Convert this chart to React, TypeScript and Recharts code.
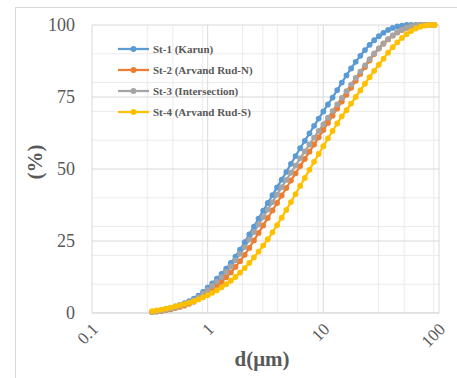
import React from "react";
import { LineChart, Line, XAxis, YAxis, CartesianGrid } from "recharts";

// particle diameter (um), log spaced bins
const diameters = [
  0.331, 0.363, 0.398, 0.437, 0.479, 0.525, 0.575, 0.631, 0.692, 0.759, 0.832, 0.912,
  1.0, 1.096, 1.202, 1.318, 1.445, 1.585, 1.738, 1.905, 2.089, 2.291, 2.512, 2.754,
  3.02, 3.311, 3.631, 3.981, 4.365, 4.786, 5.248, 5.754, 6.31, 6.918, 7.586, 8.318,
  9.12, 10.0, 10.96, 12.02, 13.18, 14.45, 15.85, 17.38, 19.05, 20.89, 22.91, 25.12,
  27.54, 30.2, 33.11, 36.31, 39.81, 43.65, 47.86, 52.48, 57.54, 63.1, 69.18, 75.86,
  83.18, 91.2,
];

// cumulative passing (%)
const st1 = [
  0.4, 0.7, 1.0, 1.4, 1.8, 2.3, 2.8, 3.4, 4.1, 5.0, 6.0, 7.3,
  8.8, 10.3, 11.9, 13.6, 15.4, 17.4, 19.6, 22.0, 24.6, 27.3, 30.0, 32.8,
  35.5, 38.2, 40.9, 43.6, 46.3, 49.0, 51.8, 54.5, 57.2, 59.8, 62.4, 65.0,
  67.5, 70.0, 72.4, 74.8, 77.4, 80.0, 82.5, 84.9, 87.2, 89.3, 91.3, 93.1,
  94.7, 96.1, 97.3, 98.3, 99.0, 99.5, 99.8, 100, 100, 100, 100, 100,
  100, 100,
];
const st2 = [
  0.3, 0.5, 0.7, 1.0, 1.3, 1.7, 2.1, 2.6, 3.2, 3.9, 4.8, 5.8,
  6.9, 8.1, 9.4, 10.8, 12.4, 14.1, 16.0, 18.0, 20.2, 22.6, 25.2, 27.8,
  30.4, 33.0, 35.6, 38.2, 40.8, 43.4, 46.0, 48.5, 51.0, 53.5, 56.0, 58.5,
  61.0, 63.5, 66.0, 68.5, 71.0, 73.4, 75.8, 78.2, 80.6, 83.0, 85.4, 87.7,
  89.9, 91.8, 93.5, 95.0, 96.3, 97.4, 98.3, 99.0, 99.5, 99.8, 100, 100,
  100, 100,
];
const st3 = [
  0.3, 0.5, 0.8, 1.1, 1.5, 1.9, 2.4, 3.0, 3.7, 4.5, 5.5, 6.7,
  8.0, 9.4, 10.9, 12.5, 14.3, 16.2, 18.3, 20.5, 22.9, 25.5, 28.1, 30.7,
  33.3, 35.9, 38.5, 41.1, 43.7, 46.2, 48.7, 51.2, 53.7, 56.1, 58.5, 60.9,
  63.2, 65.5, 67.8, 70.1, 72.4, 74.7, 77.0, 79.3, 81.6, 83.8, 86.0, 88.1,
  90.1, 91.9, 93.6, 95.1, 96.4, 97.5, 98.4, 99.1, 99.6, 99.9, 100, 100,
  100, 100,
];
const st4 = [
  0.6, 0.9, 1.2, 1.5, 1.9, 2.3, 2.7, 3.1, 3.6, 4.1, 4.7, 5.4,
  6.2, 7.0, 7.9, 8.9, 10.0, 11.2, 12.5, 14.0, 15.6, 17.4, 19.3, 21.3,
  23.4, 25.6, 28.0, 30.5, 33.1, 35.8, 38.5, 41.3, 44.1, 46.9, 49.7, 52.5,
  55.2, 57.9, 60.6, 63.2, 65.8, 68.3, 70.4, 72.7, 75.0, 77.3, 79.6, 81.9,
  84.1, 86.2, 88.3, 90.4, 92.3, 94.0, 95.5, 96.8, 97.9, 98.8, 99.4, 99.8,
  100, 100,
];

const seriesNames = ["St-1 (Karun)", "St-2 (Arvand Rud-N)", "St-3 (Intersection)", "St-4 (Arvand Rud-S)"];
const seriesKeys = ["st1", "st2", "st3", "st4"];
const colors = ["#5B9BD5", "#ED7D31", "#A5A5A5", "#FFC000"];

const xTicks = [0.1, 1, 10, 100];
const yTicks = [0, 25, 50, 75, 100];
const xMinor = [0.2, 0.3, 0.4, 0.5, 0.6, 0.7, 0.8, 0.9, 2, 3, 4, 5, 6, 7, 8, 9, 20, 30, 40, 50, 60, 70, 80, 90];
const yMinor = [10, 20, 30, 40, 60, 70, 80, 90];

const data = diameters.map((d, i) => ({ d, st1: st1[i], st2: st2[i], st3: st3[i], st4: st4[i] }));

const serif = "'Liberation Serif', 'Times New Roman', serif";
const textColor = "#595959";

const XTick = (props: any) => {
  const { x, y, payload } = props;
  const tx = x + 3;
  const ty = y + 5;
  return (
    <text x={tx} y={ty} textAnchor="end" fill={textColor} fontSize={17} fontFamily={serif}
      transform={`rotate(-45, ${tx}, ${ty})`} dy={6}>
      {String(payload.value)}
    </text>
  );
};

const Legend = () => (
  <div style={{ position: "absolute", left: 116, top: 38 }}>
    {seriesNames.map((name, i) => (
      <div key={name} style={{ display: "flex", alignItems: "center", height: 21 }}>
        <svg width={36} height={10}>
          <line x1={2} y1={5} x2={33} y2={5} stroke={colors[i]} strokeWidth={2.25} />
          <circle cx={17.5} cy={5} r={2.9} fill={colors[i]} />
        </svg>
        <span style={{ fontFamily: serif, fontWeight: "bold", fontSize: 11, color: textColor, marginLeft: 1 }}>
          {name}
        </span>
      </div>
    ))}
  </div>
);

export default function App() {
  return (
    <div style={{ position: "absolute", left: 0, top: 0, width: 457, height: 378, overflow: "hidden", background: "#fff" }}>
      <div style={{ position: "absolute", left: 15, top: 7, width: 460, height: 400, border: "1px solid #d9d9d9" }} />
      <LineChart width={457} height={378} data={data} margin={{ top: 25, right: 18, left: 42, bottom: 15 }}>
        <CartesianGrid stroke="#ebebeb" verticalValues={xMinor} horizontalValues={yMinor} />
        <CartesianGrid stroke="#d9d9d9" />
        <XAxis
          dataKey="d"
          type="number"
          scale="log"
          domain={[0.1, 100]}
          ticks={xTicks}
          allowDataOverflow
          height={50}
          tickLine={false}
          axisLine={{ stroke: "#d9d9d9" }}
          tickSize={0}
          tickMargin={8}
          tick={<XTick />}
          label={{
            content: () => (
              <text x={262} y={366} textAnchor="middle" fill={textColor} fontSize={21} fontWeight="bold" fontFamily={serif}>
                d(μm)
              </text>
            ),
          }}
        />
        <YAxis
          type="number"
          domain={[0, 100]}
          ticks={yTicks}
          width={50}
          tickLine={false}
          axisLine={false}
          tickSize={0}
          tickMargin={17}
          tick={{ fill: textColor, fontSize: 18, fontFamily: serif }}
          label={{
            content: () => (
              <text x={35} y={162} textAnchor="middle" dominantBaseline="central" fill={textColor} fontSize={21}
                fontWeight="bold" fontFamily={serif} transform="rotate(-90, 35, 162)">
                (%)
              </text>
            ),
          }}
        />
        {seriesKeys.map((k, i) => (
          <Line
            key={k}
            type="linear"
            dataKey={k}
            name={seriesNames[i]}
            stroke={colors[i]}
            strokeWidth={2.25}
            dot={{ r: 2.9, fill: colors[i], stroke: colors[i], strokeWidth: 0 }}
            activeDot={false}
            isAnimationActive={false}
          />
        ))}
      </LineChart>
      <Legend />
    </div>
  );
}
